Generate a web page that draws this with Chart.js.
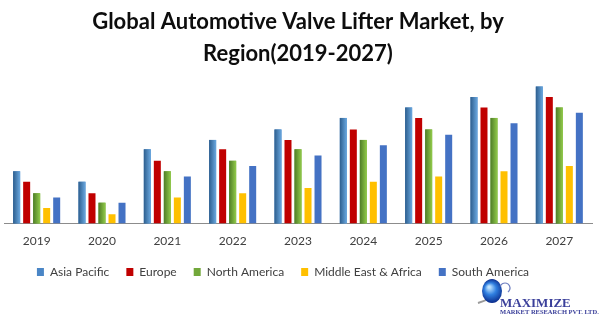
<!DOCTYPE html>
<html>
<head>
<meta charset="utf-8">
<title>Global Automotive Valve Lifter Market, by Region</title>
<script src="https://cdn.jsdelivr.net/npm/chart.js@4/dist/chart.umd.min.js"></script>
<style>
  html, body { margin: 0; padding: 0; background: #fff; }
  #wrap { width: 599px; height: 323px; }
</style>
</head>
<body>
<div id="wrap"><canvas id="lifterChart" width="599" height="323"></canvas></div>
<script>
// market size by region, 2019-2027
const years = ["2019", "2020", "2021", "2022", "2023", "2024", "2025", "2026", "2027"];
const asiaPacific = [5.0, 4.0, 7.1, 8.0, 9.0, 10.1, 11.1, 12.1, 13.1];
const europe = [4.0, 2.9, 6.0, 7.1, 8.0, 9.0, 10.1, 11.1, 12.1];
const northAmerica = [2.9, 2.0, 5.0, 6.0, 7.1, 8.0, 9.0, 10.1, 11.1];
const middleEastAfrica = [1.5, 0.9, 2.5, 2.9, 3.4, 4.0, 4.5, 5.0, 5.5];
const southAmerica = [2.5, 2.0, 4.5, 5.5, 6.5, 7.5, 8.5, 9.6, 10.6];

const textFont = "Lato, 'Open Sans', sans-serif";

// left/right shades for the cylinder-looking bars
const shades = {
  0: ["#2d5e8e", "#6aa8e0"],
  2: ["#4e7d27", "#92cb4a"]
};

// repaints the shaded series with a horizontal gradient per bar
const barShading = {
  id: "barShading",
  afterDatasetDraw(chart, args) {
    const pair = shades[args.index];
    if (!pair) return;
    const ctx = chart.ctx;
    args.meta.data.forEach(bar => {
      const left = bar.x - bar.width / 2;
      const g = ctx.createLinearGradient(left, 0, left + bar.width, 0);
      g.addColorStop(0, pair[0]);
      g.addColorStop(1, pair[1]);
      ctx.save();
      ctx.fillStyle = g;
      ctx.fillRect(left, bar.y, bar.width, bar.base - bar.y);
      ctx.restore();
    });
  }
};

// nudges the legend row up and to the left
const legendShift = {
  id: "legendShift",
  afterLayout(chart) {
    const lg = chart.legend;
    lg.left -= 15;
    lg.right -= 15;
    lg.top -= 9;
    lg.bottom -= 9;
  }
};

// publisher mark in the lower right corner
const brandMark = {
  id: "brandMark",
  afterDraw(chart) {
    const ctx = chart.ctx;
    ctx.save();
    // grey swoosh
    ctx.strokeStyle = "#9a9a9a";
    ctx.lineWidth = 2;
    ctx.beginPath();
    ctx.moveTo(478, 303);
    ctx.quadraticCurveTo(488, 300, 500, 293);
    ctx.stroke();
    // globe
    const g = ctx.createRadialGradient(489, 287, 1, 492, 291, 12);
    g.addColorStop(0, "#bfe3ff");
    g.addColorStop(0.45, "#2f7fe0");
    g.addColorStop(1, "#0a2a8a");
    ctx.fillStyle = g;
    ctx.beginPath();
    ctx.ellipse(492, 291, 10, 12, 0, 0, Math.PI * 2);
    ctx.fill();
    ctx.strokeStyle = "#6f7fc0";
    ctx.lineWidth = 1.2;
    ctx.beginPath();
    ctx.arc(505, 288, 5, Math.PI * 1.1, Math.PI * 0.3);
    ctx.stroke();
    // name
    ctx.fillStyle = "#3a3f9a";
    ctx.textBaseline = "alphabetic";
    ctx.font = "bold 13px 'Liberation Serif', 'DejaVu Serif', serif";
    ctx.fillText("MAXIMIZE", 500, 307);
    ctx.font = "bold 6.5px 'Liberation Serif', 'DejaVu Serif', serif";
    ctx.fillText("MARKET RESEARCH PVT. LTD.", 500, 314);
    ctx.restore();
  }
};

const ctx = document.getElementById("lifterChart").getContext("2d");

new Chart(ctx, {
  type: "bar",
  data: {
    labels: years,
    datasets: [
      { label: "Asia Pacific", data: asiaPacific, backgroundColor: "#4a86c6" },
      { label: "Europe", data: europe, backgroundColor: "#c00000" },
      { label: "North America", data: northAmerica, backgroundColor: "#72a83a" },
      { label: "Middle East & Africa", data: middleEastAfrica, backgroundColor: "#ffc000" },
      { label: "South America", data: southAmerica, backgroundColor: "#4472c4" }
    ]
  },
  options: {
    responsive: false,
    animation: false,
    layout: { padding: { left: 4, right: 7, top: 0, bottom: 26 } },
    datasets: {
      bar: { categoryPercentage: 0.766, barPercentage: 0.7 }
    },
    scales: {
      x: {
        grid: { display: false, drawTicks: false },
        border: { display: true, color: "#8c8c8c", width: 1 },
        ticks: { color: "#404040", padding: 10, font: { family: textFont, size: 12 } }
      },
      y: {
        display: false,
        min: 0,
        max: 14.7
      }
    },
    plugins: {
      title: {
        display: true,
        text: ["Global Automotive Valve Lifter Market, by", "Region(2019-2027)"],
        color: "#0d0d0d",
        font: { family: textFont, size: 22, weight: "bold", lineHeight: 1.45 },
        padding: { top: 6, bottom: 0 }
      },
      legend: {
        position: "bottom",
        labels: {
          color: "#404040",
          boxWidth: 7,
          boxHeight: 8,
          padding: 17,
          font: { family: textFont, size: 12 }
        }
      },
      tooltip: { enabled: false }
    }
  },
  plugins: [barShading, legendShift, brandMark]
});
</script>
</body>
</html>
